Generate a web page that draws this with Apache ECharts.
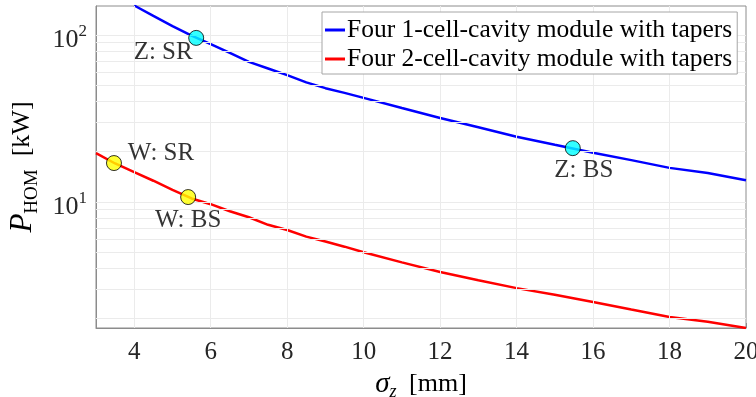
<!DOCTYPE html>
<html>
<head>
<meta charset="utf-8">
<script src="https://cdn.jsdelivr.net/npm/echarts@6/dist/echarts.min.js"></script>
<style>
  html, body { margin: 0; padding: 0; background: #fff; }
  #chart { width: 756px; height: 397px; }
</style>
</head>
<body>
<div id="chart"></div>
<script>
// bunch length sigma_z [mm]
const sigma = [3, 3.5, 4, 4.5, 5, 5.5, 6, 6.5, 7, 7.5, 8, 8.5, 9, 9.5, 10, 11, 12, 13, 14, 15, 16, 17, 18, 19, 20]
// P_HOM [kW]
const oneCell = [null, null, 150, 130, 113, 99, 88, 78, 69, 63, 57.5, 52, 48, 45, 42, 36.5, 31.8, 28, 24.6, 22, 19.7, 17.8, 16, 14.9, 13.5]
const twoCell = [19.6, 17.0, 15.1, 13.4, 11.8, 10.5, 9.7, 8.8, 8.1, 7.3, 6.8, 6.2, 5.8, 5.4, 5.0, 4.35, 3.81, 3.4, 3.05, 2.78, 2.52, 2.27, 2.05, 1.92, 1.76]
const seriesNames = ['Four 1-cell-cavity module with tapers', 'Four 2-cell-cavity module with tapers']

// working points
const markerNames = ['Z: SR', 'Z: BS', 'W: SR', 'W: BS']
const markerSigma = [5.62, 15.47, 3.47, 5.41]
const markerPower = [96, 21, 17.1, 10.7]

// ticks / grid
const xTicks = [4, 6, 8, 10, 12, 14, 16, 18, 20]
const yGrid = [2, 3, 4, 5, 6, 7, 8, 9, 10, 20, 30, 40, 50, 60, 70, 80, 90, 100]

const FONT = 'Liberation Serif'
const chart = echarts.init(document.getElementById('chart'))

const pairs = (xs, ys) => xs.map((x, i) => [x, ys[i]])

const markerStyle = {
  'Z: SR': { color: '#00ffff', offset: [-33, 15] },
  'Z: BS': { color: '#00ffff', offset: [11, 22] },
  'W: SR': { color: '#ffff00', offset: [47, -10] },
  'W: BS': { color: '#ffff00', offset: [0, 23] }
}

const gridLines = xTicks.filter(v => v < 20).map(v => ({ xAxis: v }))
  .concat(yGrid.map(v => ({ yAxis: v })))

chart.setOption({
  animation: false,
  grid: {
    left: 96, right: 10, top: 6, bottom: 69,
    outerBoundsMode: 'none',
    containLabel: false,
    show: true, borderColor: '#8c8c8c', borderWidth: 1, backgroundColor: '#fff'
  },
  legend: {
    orient: 'vertical',
    left: 322,
    top: 12,
    z: 20,
    icon: 'rect',
    itemWidth: 20,
    itemHeight: 3,
    itemGap: 3,
    padding: [5, 5, 2, 3],
    borderColor: '#a6a6a6',
    borderWidth: 1,
    backgroundColor: '#fff',
    selectedMode: false,
    data: seriesNames,
    textStyle: { fontFamily: FONT, fontSize: 25.5, color: '#000', padding: [0, 0, 0, -3] }
  },
  xAxis: {
    type: 'value',
    min: 3,
    max: 20,
    interval: 1,
    name: '{s|σ}{z|z} [mm]',
    nameLocation: 'middle',
    nameGap: 38,
    nameTextStyle: {
      fontFamily: FONT, fontSize: 26, color: '#000',
      rich: {
        s: { fontFamily: FONT, fontStyle: 'italic', fontSize: 29, lineHeight: 34, color: '#000' },
        z: { fontFamily: FONT, fontStyle: 'italic', fontSize: 18, lineHeight: 18, verticalAlign: 'bottom', padding: [0, 6, 0, 0], color: '#000' }
      }
    },
    axisLine: { show: true, lineStyle: { color: '#8c8c8c' } },
    axisTick: { show: true, inside: true, length: 5, customValues: xTicks, lineStyle: { color: '#8c8c8c' } },
    axisLabel: {
      fontFamily: FONT, fontSize: 25, color: '#262626', margin: 12,
      customValues: xTicks
    },
    splitLine: { show: false }
  },
  yAxis: {
    type: 'log',
    logBase: 10,
    min: 1.76,
    max: 149,
    name: '{p|P}{h|HOM}  [kW]',
    nameLocation: 'middle',
    nameRotate: 90,
    nameGap: 54,
    nameTextStyle: {
      fontFamily: FONT, fontSize: 26, color: '#000',
      rich: {
        p: { fontFamily: FONT, fontStyle: 'italic', fontSize: 31, lineHeight: 38, color: '#000' },
        h: { fontFamily: FONT, fontSize: 19, lineHeight: 19, verticalAlign: 'bottom', color: '#000' }
      }
    },
    axisLine: { show: true, lineStyle: { color: '#8c8c8c' } },
    axisTick: { show: false },
    axisLabel: {
      margin: 9,
      color: '#262626',
      padding: [10, 0, 0, 0],
      formatter: function (v) {
        const e = Math.log10(v)
        if (Math.abs(e - Math.round(e)) > 1e-6) return ''
        return '{b|10}{e|' + Math.round(e) + '}'
      },
      rich: {
        b: { fontFamily: FONT, fontSize: 26, lineHeight: 34, color: '#262626' },
        e: { fontFamily: FONT, fontSize: 17, lineHeight: 17, verticalAlign: 'top', color: '#262626' }
      }
    },
    splitLine: { show: false }
  },
  series: [
    {
      name: 'grid',
      type: 'line',
      data: [],
      z: 1,
      silent: true,
      markLine: {
        silent: true,
        symbol: 'none',
        label: { show: false },
        animation: false,
        lineStyle: { color: '#ebebeb', width: 1, type: 'solid' },
        data: gridLines
      }
    },
    {
      name: seriesNames[0],
      type: 'line',
      data: pairs(sigma, oneCell),
      showSymbol: false,
      symbol: 'none',
      z: 3,
      lineStyle: { color: '#0000ff', width: 2.5 },
      itemStyle: { color: '#0000ff' }
    },
    {
      name: seriesNames[1],
      type: 'line',
      data: pairs(sigma, twoCell),
      showSymbol: false,
      symbol: 'none',
      z: 3,
      lineStyle: { color: '#ff0000', width: 2.5 },
      itemStyle: { color: '#ff0000' }
    },
    {
      name: 'points',
      type: 'scatter',
      z: 5,
      symbolSize: 15,
      data: markerNames.map((n, i) => ({
        name: n,
        value: [markerSigma[i], markerPower[i]],
        itemStyle: { color: markerStyle[n].color, borderColor: '#000', borderWidth: 1 },
        label: {
          show: true,
          position: 'inside',
          offset: markerStyle[n].offset,
          formatter: n,
          fontFamily: FONT,
          fontSize: 25,
          color: '#000'
        }
      }))
    }
  ]
})
</script>
</body>
</html>
